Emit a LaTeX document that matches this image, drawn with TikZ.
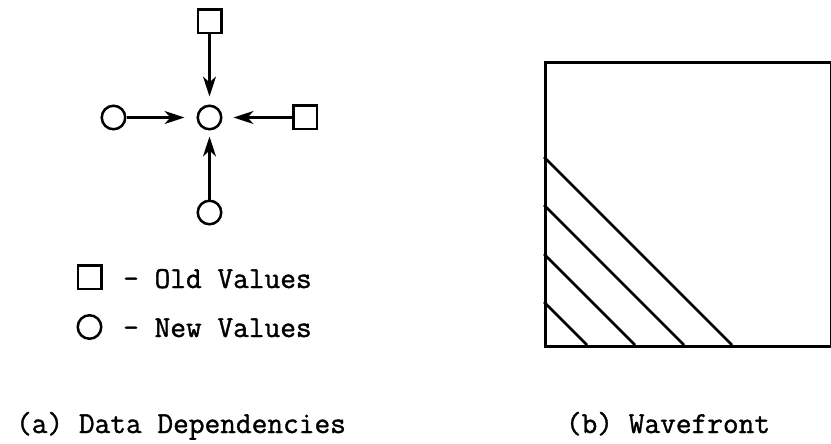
\documentclass[tikz,border=0pt]{standalone}
\usepackage{fontspec}
\setmonofont[FakeBold=1.2]{Latin Modern Mono}
\usetikzlibrary{arrows.meta}
\begin{document}
\begin{tikzpicture}[x=1pt,y=-1pt,
  newval/.style={circle,draw,line width=2.5pt,minimum size=23.5pt,inner sep=0pt},
  oldval/.style={rectangle,draw,line width=2.5pt,minimum size=23.5pt,inner sep=0pt},
  dep/.style={line width=2.5pt,-{Stealth[length=20pt,width=13pt,inset=6pt]}},
  lbl/.style={font=\fontsize{30.5}{36}\selectfont\ttfamily,inner sep=0pt},
  edge/.style={line width=2.6pt}]
\useasboundingbox (0,0) rectangle (831,444);

% (a) data dependencies of one grid point
\node[newval] (c)  at (209.5,117.5) {};
\node[oldval] (up) at (209.5,21.5)  {};
\node[newval] (lf) at (113.5,117.5) {};
\node[oldval] (rt) at (305,117.5)   {};
\node[newval] (dn) at (209.5,212.5) {};

\draw[dep,shorten >=8pt]  (up) -- (c);
\draw[dep,shorten >=12pt] (lf) -- (c);
\draw[dep,shorten >=11pt] (rt) -- (c);
\draw[dep,shorten >=6pt]  (dn) -- (c);

% legend
\node[oldval] (ksq) at (89.5,277) {};
\node[newval] (kci) at (89.5,327) {};
\node[lbl,anchor=base west] (kold) at (123,288) {- Old Values};
\node[lbl,anchor=base west] (knew) at (123,337) {- New Values};

% (b) wavefront sweeping the grid from the lower-left corner
\node[draw,line width=2.6pt,anchor=north west,minimum width=286pt,minimum height=284pt,inner sep=0pt] (grid) at (544,61) {};
\coordinate (sw) at (544,345);
\foreach \d in {43,91,140,188}
  \draw[edge] (sw) ++(0,-\d) -- ++(\d,\d);

% captions
\node[lbl,anchor=base] (capa) at (181,433) {(a) Data Dependencies};
\node[lbl,anchor=base] (capb) at (668,433) {(b) Wavefront};
\end{tikzpicture}
\end{document}
